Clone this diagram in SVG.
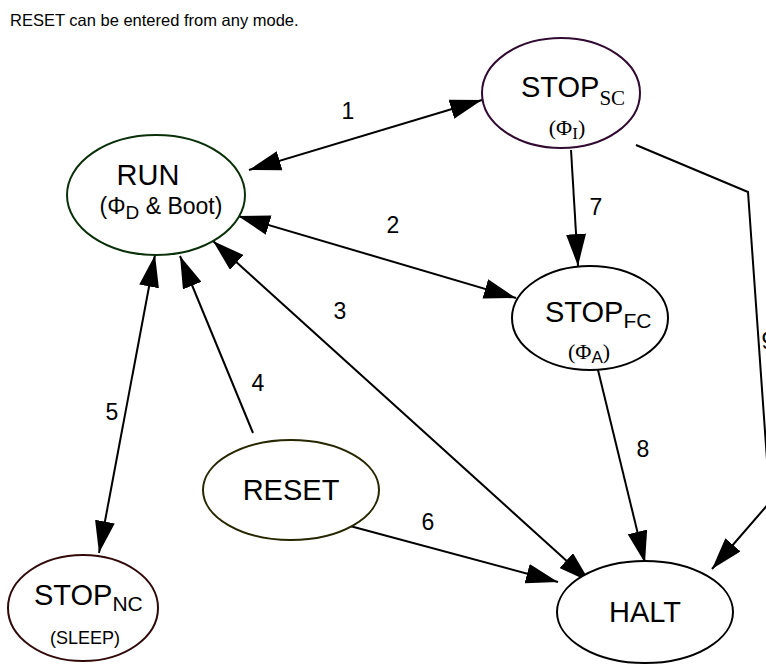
<svg xmlns="http://www.w3.org/2000/svg" width="766" height="664" viewBox="0 0 766 664">
<style>
.node{fill:#fff;stroke-width:2}
.t{font-family:"Liberation Sans",Arial,sans-serif;fill:#000}
.s{font-family:"Liberation Serif","Times New Roman",serif;fill:#000}
.big{font-size:29px}
.lbl{font-family:"Liberation Sans",Arial,sans-serif;font-size:23px;fill:#000;text-anchor:middle}
.edge{fill:none;stroke:#000;stroke-width:2}
</style>
<defs>
<marker id="ah" markerWidth="32" markerHeight="20" refX="32" refY="10" orient="auto-start-reverse" markerUnits="userSpaceOnUse"><path d="M0,0 L32,10 L0,20 z" fill="#000"/></marker>
</defs>
<rect width="766" height="664" fill="#fff"/>
<text class="t" x="10" y="26" font-size="16.5">RESET can be entered from any mode.</text>
<g id="connectors">
<line id="e1" class="edge" x1="249" y1="170" x2="482" y2="100" marker-start="url(#ah)" marker-end="url(#ah)"/>
<line id="e2" class="edge" x1="238" y1="216" x2="516" y2="298" marker-start="url(#ah)" marker-end="url(#ah)"/>
<line id="e3" class="edge" x1="213" y1="241" x2="590" y2="582" marker-start="url(#ah)" marker-end="url(#ah)"/>
<line id="e4" class="edge" x1="253" y1="433" x2="180" y2="256" marker-end="url(#ah)"/>
<line id="e5" class="edge" x1="155" y1="255" x2="99" y2="553" marker-start="url(#ah)" marker-end="url(#ah)"/>
<line id="e6" class="edge" x1="350" y1="526" x2="558" y2="582" marker-end="url(#ah)"/>
<line id="e7" class="edge" x1="571" y1="150" x2="578" y2="266" marker-end="url(#ah)"/>
<line id="e8" class="edge" x1="598" y1="370" x2="645" y2="563" marker-end="url(#ah)"/>
<polyline id="e9" class="edge" points="636,145 748,192 770,502 712,569" marker-end="url(#ah)"/>
<text class="lbl" x="348" y="119">1</text>
<text class="lbl" x="393" y="233">2</text>
<text class="lbl" x="340" y="319">3</text>
<text class="lbl" x="258" y="391">4</text>
<text class="lbl" x="112" y="420">5</text>
<text class="lbl" x="428" y="530">6</text>
<text class="lbl" x="596" y="215">7</text>
<text class="lbl" x="643" y="457">8</text>
<text class="lbl" x="768" y="349">9</text>
</g>
<g id="run">
<ellipse class="node" cx="156" cy="195" rx="89" ry="60" stroke="#0a300a"/>
<text class="t big" x="148" y="185" text-anchor="middle">RUN</text>
<text class="t" x="161" y="214" font-size="23" text-anchor="middle">(Φ<tspan font-size="19" dy="5">D</tspan><tspan dy="-5"> &amp; Boot)</tspan></text>
</g>
<g id="stop_sc">
<ellipse class="node" cx="561" cy="93" rx="79" ry="55" stroke="#300a30"/>
<text class="t big" x="521" y="97">STOP<tspan class="s" font-size="21" dy="8">SC</tspan></text>
<text class="s" x="567" y="135" font-size="22" text-anchor="middle">(Φ<tspan font-size="17" dy="4">I</tspan><tspan dy="-4">)</tspan></text>
</g>
<g id="stop_fc">
<ellipse class="node" cx="590" cy="318" rx="78" ry="52" stroke="#000"/>
<text class="t big" x="545" y="322">STOP<tspan font-size="21" dy="6">FC</tspan></text>
<text class="s" x="589" y="359" font-size="22" text-anchor="middle">(Φ<tspan class="t" font-size="17" dy="4">A</tspan><tspan dy="-4">)</tspan></text>
</g>
<g id="reset">
<ellipse class="node" cx="291" cy="490" rx="88" ry="50" stroke="#262600"/>
<text class="t big" x="291" y="500" text-anchor="middle">RESET</text>
</g>
<g id="stop_nc">
<ellipse class="node" cx="83" cy="608" rx="75" ry="53" stroke="#300a0a"/>
<text class="t big" x="34" y="605">STOP<tspan font-size="21" dy="6">NC</tspan></text>
<text class="t" x="85" y="644" font-size="18" text-anchor="middle">(SLEEP)</text>
</g>
<g id="halt">
<ellipse class="node" cx="645" cy="612" rx="88" ry="51" stroke="#000"/>
<text class="t big" x="645" y="622" text-anchor="middle">HALT</text>
</g>
</svg>
